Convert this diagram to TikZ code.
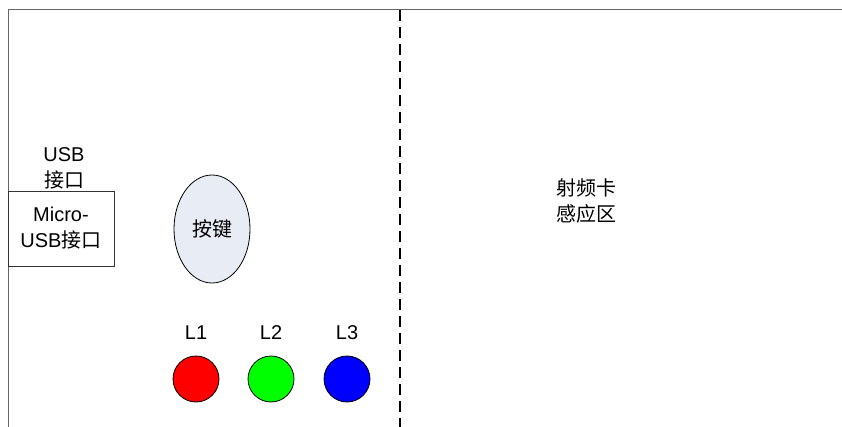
\documentclass[tikz,border=0pt]{standalone}
\usepackage{fontspec}
\setmainfont{Liberation Sans}
\newfontfamily\cjk{Noto Sans CJK SC}
\usetikzlibrary{shapes.geometric}
\begin{document}
\begin{tikzpicture}[x=1pt,y=-1pt,
  every node/.style={font=\fontsize{20}{26}\selectfont, inner sep=0pt, align=center},
  led/.style={circle, draw=black, line width=0.8pt, minimum size=46pt},
  lbl/.style={}]
\useasboundingbox (0,0) rectangle (842,427);
\coordinate (fbl) at (8,427);
\coordinate (ftl) at (8,10);
\coordinate (ftr) at (842,10);
\draw[gray!80!black, line width=1pt] (fbl) -- (ftl) -- (ftr);
\coordinate (dtop) at (400,10);
\coordinate (dbot) at (400,427);
\draw[black, line width=1.4pt, dash pattern=on 11pt off 6pt] (dtop) -- (dbot);
\node[lbl] (usb) at (64,168) {USB\\{\cjk 接口}};
\node[draw=black!80, line width=0.8pt, minimum width=106pt, minimum height=75pt] (micro) at (61,228.5) {Micro-\\USB{\cjk 接口}};
\node[ellipse, draw=black, line width=0.8pt, fill={rgb,255:red,232;green,236;blue,245}, minimum width=76pt, minimum height=108pt] (key) at (212,229) {\cjk 按键};
\node[led, fill={rgb,255:red,255;green,0;blue,0}] (l1) at (196,379) {};
\node[led, fill={rgb,255:red,0;green,255;blue,0}] (l2) at (271,379) {};
\node[led, fill={rgb,255:red,0;green,0;blue,255}] (l3) at (347,379) {};
\node[lbl] (t1) at (196,333) {L1};
\node[lbl] (t2) at (271,333) {L2};
\node[lbl] (t3) at (347,333) {L3};
\node[lbl] (rf) at (586,201) {\cjk 射频卡\\\cjk 感应区};
\end{tikzpicture}
\end{document}
